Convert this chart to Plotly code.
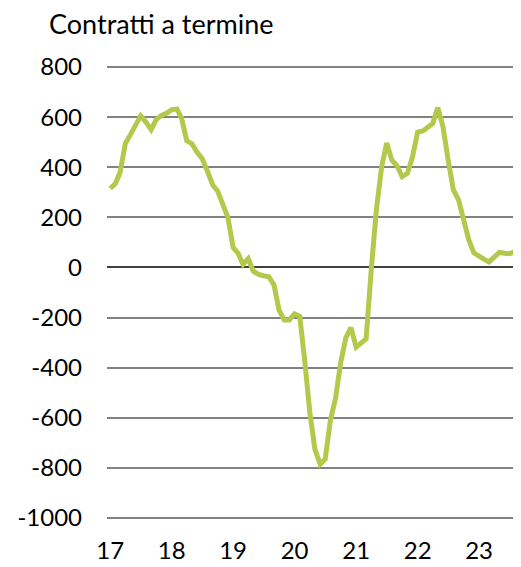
import plotly.graph_objects as go
import pandas as pd

title_text = "Contratti a termine"
start_month = "2017-01-01"
values = [315, 335, 380, 495, 530, 570, 605, 580, 550, 590, 607, 615,
          630, 632, 596, 505, 494, 460, 435, 385, 330, 305, 245, 200,
          80, 55, 12, 35, -15, -28, -33, -37, -70, -170, -210, -210,
          -185, -195, -370, -580, -726, -785, -765, -610, -520, -380, -280, -240,
          -318, -300, -285, -5, 230, 400, 497, 428, 405, 362, 375, 440,
          540, 545, 560, 575, 638, 560, 430, 310, 270, 190, 110, 58,
          42, 32, 22, 40, 60, 57, 55, 62, 72]
tick_years = [2017, 2018, 2019, 2020, 2021, 2022, 2023]
tick_labels = ["17", "18", "19", "20", "21", "22", "23"]
y_ticks = [800, 600, 400, 200, 0, -200, -400, -600, -800, -1000]

dates = pd.date_range(start_month, periods=len(values), freq="MS")

fig = go.Figure()
fig.add_trace(go.Scatter(x=dates, y=values, mode="lines",
                         line=dict(color="#b4c84b", width=5), hoverinfo="skip"))

font = dict(family="Lato, Open Sans, sans-serif", size=24, color="#000000")
plot_top, plot_bottom, plot_left, plot_right = 56, 513, 99, 513
title_cx, title_cy = 40, 15
fig.update_layout(
    width=521, height=567,
    margin=dict(l=plot_left, r=521 - plot_right, t=plot_top, b=567 - plot_bottom,
                autoexpand=False),
    paper_bgcolor="white", plot_bgcolor="white",
    showlegend=False,
    font=font,
    xaxis=dict(range=[pd.Timestamp("2016-12-13"), pd.Timestamp("2023-09-07")],
               tickvals=[pd.Timestamp(f"{y}-01-01") for y in tick_years],
               ticktext=tick_labels, showgrid=False, zeroline=False,
               showline=False, ticks="", ticklabelstandoff=13, tickfont=font,
               automargin=False),
    yaxis=dict(range=[-1012, 812], tickvals=y_ticks,
               ticktext=[str(v) for v in y_ticks],
               showgrid=True, gridcolor="#828282", gridwidth=1.5,
               zeroline=True, zerolinecolor="#404040", zerolinewidth=1.8,
               showline=False, ticks="", ticklabelstandoff=24, tickfont=font,
               automargin=False),
)
fig.add_annotation(
    text=title_text, showarrow=False,
    xref="paper", yref="paper",
    x=(title_cx - plot_left) / (plot_right - plot_left), xanchor="left",
    y=(plot_bottom - title_cy) / (plot_bottom - plot_top), yanchor="middle",
    borderpad=0,
    font=dict(family="Lato, Open Sans, sans-serif", size=27, color="#000000"),
)
fig.write_html("out.html")
